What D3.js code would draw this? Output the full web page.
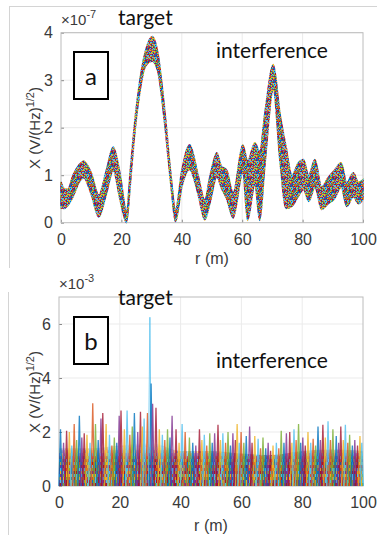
<!DOCTYPE html>
<html>
<head>
<meta charset="utf-8">
<script src="https://cdn.jsdelivr.net/npm/d3@7"></script>
<style>
  body { margin: 0; background: #fff; }
  svg { display: block; }
</style>
</head>
<body>
<svg id="chart" width="377" height="535"></svg>
<script>
// panel a: envelope of the band of curves (x 1e-7)
const aR  = [0, 1, 2.2, 4, 6, 7.5, 10, 12.5, 15, 17.3, 19.5, 21.7, 23, 24.3, 26, 28, 30.2, 32, 34.3, 36.5, 37.9, 40, 42.6, 45.4, 47.6, 49.3, 51.6, 53, 54.9, 57, 60.2, 61.8, 64.2, 65.8, 67.5, 70.3, 72.5, 74.5, 76.5, 78.5, 80.3, 82, 84.1, 86.3, 88.5, 90.5, 92.8, 94.6, 96.8, 98.5, 100];
const aHi = [0.86, 0.72, 0.7, 1.0, 1.22, 1.3, 1.05, 0.58, 1.1, 1.6, 1.05, 0.25, 1.15, 2.05, 2.95, 3.62, 3.92, 3.6, 2.4, 0.95, 0.27, 1.1, 1.64, 1.0, 0.48, 0.97, 1.47, 1.2, 1.1, 0.63, 1.64, 1.3, 1.68, 1.5, 2.3, 3.33, 2.3, 1.6, 1.0, 1.25, 1.33, 1.0, 1.33, 0.75, 0.95, 1.1, 1.26, 0.84, 1.05, 0.85, 0.9];
const aLo = [0.31, 0.3, 0.36, 0.55, 0.85, 0.95, 0.6, 0.12, 0.6, 1.1, 0.5, 0.0, 0.85, 1.8, 2.7, 3.3, 3.4, 3.2, 2.1, 0.72, 0.02, 0.75, 1.12, 0.6, 0.06, 0.41, 0.97, 0.75, 0.5, 0.1, 1.05, 0.05, 0.8, 0.05, 1.2, 2.8, 1.3, 0.3, 0.35, 0.55, 0.7, 0.45, 0.75, 0.28, 0.4, 0.5, 0.75, 0.34, 0.55, 0.4, 0.5];

// panel b: spike tops (x 1e-3) and the level of the dense floor
const bR   = [0.5, 1.5, 2.5, 3.4, 4.2, 5, 5.8, 6.7, 7.5, 8.3, 9.2, 10.2, 11.1, 12, 12.9, 13.8, 14.4, 15.5, 16.6, 17.4, 18.2, 19, 19.8, 20.4, 21.5, 22.4, 23.3, 24.1, 24.8, 25.9, 26.8, 27.4, 28, 29.1, 29.9, 30.3, 30.8, 31.9, 33, 34, 34.8, 35.7, 36.5, 37.2, 38.5, 39.5, 40.5, 41.5, 42.9, 44, 45, 46.2, 47, 47.8, 48.6, 49.6, 50.4, 51.2, 52.3, 53.1, 53.9, 54.8, 55.6, 56.4, 57.2, 58, 58.6, 59.3, 59.9, 60.8, 61.6, 62.7, 63.5, 64.4, 65.5, 66.3, 67.1, 68, 68.8, 69.6, 70.4, 71.5, 72.3, 73.1, 74, 74.8, 75.9, 76.6, 77.3, 78, 78.8, 79.5, 80.2, 81, 81.9, 82.8, 83.6, 84.4, 85.2, 86, 86.8, 87.6, 88.5, 89.3, 90.1, 91.2, 92, 92.7, 93.5, 94.2, 95, 95.6, 96.5, 97.3, 98.2, 99, 99.6];
const bTop = [2.1, 1.6, 2.05, 2.0, 1.5, 2.3, 1.7, 2.6, 1.8, 1.95, 1.9, 1.6, 3.06, 2.3, 1.7, 2.5, 2.7, 2.3, 1.9, 1.5, 1.8, 1.6, 2.6, 2.8, 2.1, 2.8, 1.9, 2.2, 2.7, 2.0, 2.75, 2.2, 2.5, 2.7, 6.25, 3.8, 3.05, 2.9, 2.1, 1.9, 1.7, 2.1, 1.8, 2.6, 2.1, 1.6, 2.3, 2.0, 1.8, 1.6, 1.5, 2.1, 1.7, 1.9, 1.5, 1.95, 1.6, 1.95, 2.27, 1.7, 1.95, 1.6, 2.0, 1.5, 1.95, 1.7, 2.3, 1.6, 2.0, 1.6, 1.85, 2.2, 1.6, 1.85, 1.75, 1.4, 1.8, 1.4, 1.6, 1.3, 1.5, 1.6, 1.4, 2.05, 1.6, 1.95, 2.0, 1.6, 2.1, 1.7, 2.3, 1.6, 1.8, 1.5, 2.0, 1.6, 1.75, 1.5, 2.2, 1.7, 2.27, 1.8, 2.4, 1.7, 2.1, 1.85, 1.6, 2.2, 1.7, 2.27, 1.6, 1.9, 1.5, 1.7, 1.5, 1.85, 1.6];
const bFloorR = [0, 10, 20, 30, 40, 50, 60, 70, 80, 90, 100];
const bFloor  = [1.4, 1.4, 1.5, 1.6, 1.3, 1.3, 1.2, 1.15, 1.3, 1.35, 1.3];

const xTicks = [0, 20, 40, 60, 80, 100];
const aYTicks = [0, 1, 2, 3, 4];
const bYTicks = [0, 2, 4, 6];

const matlab = ["#0072BD", "#D95319", "#EDB120", "#7E2F8E", "#77AC30", "#4DBEEE", "#A2142F"];
const sans = "Liberation Sans, Arial, sans-serif";
const ann = "Lato, 'Open Sans', sans-serif";

const svg = d3.select("#chart");
const defs = svg.append("defs");

// speckle patterns for the many overlapping coloured curves
// (colour index from an integer hash so the texture does not look striped)
const hash = (i, j) => (((i * 73856093) ^ (j * 19349663)) >>> 0) % 97;
function speckle(id, w, h, cw, ch) {
  const p = defs.append("pattern").attr("id", id)
      .attr("patternUnits", "userSpaceOnUse").attr("width", w * cw).attr("height", h * ch);
  for (let i = 0; i < w; i++) {
    for (let j = 0; j < h; j++) {
      p.append("rect").attr("x", i * cw).attr("y", j * ch).attr("width", cw).attr("height", ch)
          .attr("fill", matlab[hash(i, j) % 7]);
    }
  }
}
speckle("speck", 17, 13, 1, 1);
speckle("stripe", 23, 9, 1, 3);

const fade = defs.append("linearGradient").attr("id", "fade")
    .attr("x1", 0).attr("x2", 0).attr("y1", 1).attr("y2", 0);
fade.append("stop").attr("offset", "0%").attr("stop-color", "#fff").attr("stop-opacity", 1);
fade.append("stop").attr("offset", "55%").attr("stop-color", "#fff").attr("stop-opacity", 1);
fade.append("stop").attr("offset", "100%").attr("stop-color", "#fff").attr("stop-opacity", 0);
defs.append("mask").attr("id", "fadeMask").attr("maskContentUnits", "objectBoundingBox")
  .append("rect").attr("width", 1).attr("height", 1).attr("fill", "url(#fade)");

// outer frame lines from the screenshot
svg.append("line").attr("x1", 9).attr("x2", 377).attr("y1", 6.5).attr("y2", 6.5).attr("stroke", "#d4d4d4");
svg.append("line").attr("x1", 9.5).attr("x2", 9.5).attr("y1", 6).attr("y2", 268).attr("stroke", "#d4d4d4");
svg.append("line").attr("x1", 8.5).attr("x2", 8.5).attr("y1", 292).attr("y2", 535).attr("stroke", "#d4d4d4");

function panel(x, y, yTicks, exp, lab, labelY, tgtY, boxY, intY, xlabY) {
  const g = svg.append("g");
  const [x0, x1] = x.range(), [y0, y1] = y.range();

  g.append("g").selectAll("line").data(xTicks.slice(1, -1)).join("line")
      .attr("x1", d => x(d)).attr("x2", d => x(d)).attr("y1", y0).attr("y2", y1)
      .attr("stroke", "#ebebeb");
  g.append("g").selectAll("line").data(yTicks.slice(1)).join("line")
      .attr("x1", x0).attr("x2", x1).attr("y1", d => y(d)).attr("y2", d => y(d))
      .attr("stroke", "#ebebeb");

  const ax = g.append("g").attr("transform", `translate(0,${y0})`)
      .call(d3.axisBottom(x).tickValues(xTicks).tickFormat(d3.format("d"))
        .tickSizeInner(-3).tickSizeOuter(0).tickPadding(11));
  const ay = g.append("g").attr("transform", `translate(${x0},0)`)
      .call(d3.axisLeft(y).tickValues(yTicks).tickFormat(d3.format("d"))
        .tickSizeInner(-3).tickSizeOuter(0).tickPadding(8));
  for (const a of [ax, ay]) {
    a.select(".domain").remove();
    a.selectAll(".tick line").attr("stroke", "#8a8a8a");
    a.selectAll(".tick text").attr("font-family", sans).attr("font-size", 16).attr("fill", "#3a3a3a");
  }
  g.append("rect").attr("x", x0).attr("y", y1).attr("width", x1 - x0).attr("height", y0 - y1)
      .attr("fill", "none").attr("stroke", "#bcbcbc");

  const t = g.append("text").attr("x", x0).attr("y", y1 - 8)
      .attr("font-family", sans).attr("font-size", 15).attr("fill", "#3a3a3a");
  t.append("tspan").text("×10");
  t.append("tspan").attr("dy", -7).attr("font-size", 11).text(exp);

  g.append("text").attr("transform", `translate(40,${labelY}) rotate(-90)`)
      .attr("text-anchor", "middle").attr("font-family", sans)
      .attr("font-size", 15).attr("fill", "#3a3a3a")
      .call(s => {
        s.append("tspan").text("X (V/(Hz)");
        s.append("tspan").attr("dy", -6).attr("font-size", 11).text("1/2");
        s.append("tspan").attr("dy", 6).text(")");
      });
  g.append("text").attr("x", (x0 + x1) / 2).attr("y", xlabY).attr("text-anchor", "middle")
      .attr("font-family", sans).attr("font-size", 16)
      .attr("fill", "#3a3a3a").text("r (m)");

  g.append("text").attr("x", 118).attr("y", tgtY).attr("font-family", ann).attr("font-size", 21)
      .attr("fill", "#111").text("target");
  g.append("text").attr("x", 216).attr("y", intY).attr("font-family", ann).attr("font-size", 21)
      .attr("fill", "#111").text("interference");
  g.append("rect").attr("x", 74).attr("y", boxY).attr("width", 34).attr("height", 47)
      .attr("fill", "#fff").attr("stroke", "#000").attr("stroke-width", 2);
  g.append("text").attr("x", 91).attr("y", boxY + 33).attr("text-anchor", "middle")
      .attr("font-family", ann).attr("font-size", 24).attr("fill", "#111").text(lab);
  return g;
}

// panel a
const xA = d3.scaleLinear().domain([0, 100]).range([61, 363]);
const yA = d3.scaleLinear().domain([0, 4]).range([222.7, 32.7]);
const gA = panel(xA, yA, aYTicks, "-7", "a", 128, 25, 52, 58, 264);
const bandA = d3.area().curve(d3.curveMonotoneX)
    .x((d, i) => xA(aR[i])).y0((d, i) => yA(aLo[i])).y1(d => yA(d));
gA.append("path").datum(aHi).attr("d", bandA)
    .attr("fill", "url(#speck)").attr("stroke", "url(#speck)").attr("stroke-width", 1.6);

// panel b
const xB = d3.scaleLinear().domain([0, 100]).range([59, 363]);
const yB = d3.scaleLinear().domain([0, 7]).range([486, 297]);
const gB = panel(xB, yB, bYTicks, "-3", "b", 392, 305, 317, 368, 531);
const floorB = d3.area().curve(d3.curveMonotoneX)
    .x((d, i) => xB(bFloorR[i])).y0(yB(0)).y1(d => yB(d));
gB.append("path").datum(bFloor).attr("d", floorB)
    .attr("fill", "url(#stripe)").attr("mask", "url(#fadeMask)");
// each spike drawn as a narrow zig-zag from the floor
const tallest = d3.max(bTop);
const spike = (d, i) => {
  const xc = xB(bR[i]);
  return `M${xc - 1.6},${yB(0)}L${xc},${yB(d)}L${xc + 1.6},${yB(0)}`;
};
gB.append("g").selectAll("path").data(bTop).join("path")
    .attr("d", spike).attr("fill", "none")
    .attr("stroke", (d, i) => d === tallest ? "#4DBEEE" : matlab[(i * 3) % 7])
    .attr("stroke-width", d => d === tallest ? 1 : 1.3)
    .attr("stroke-opacity", d => d === tallest ? 0.75 : 0.8);
</script>
</body>
</html>
